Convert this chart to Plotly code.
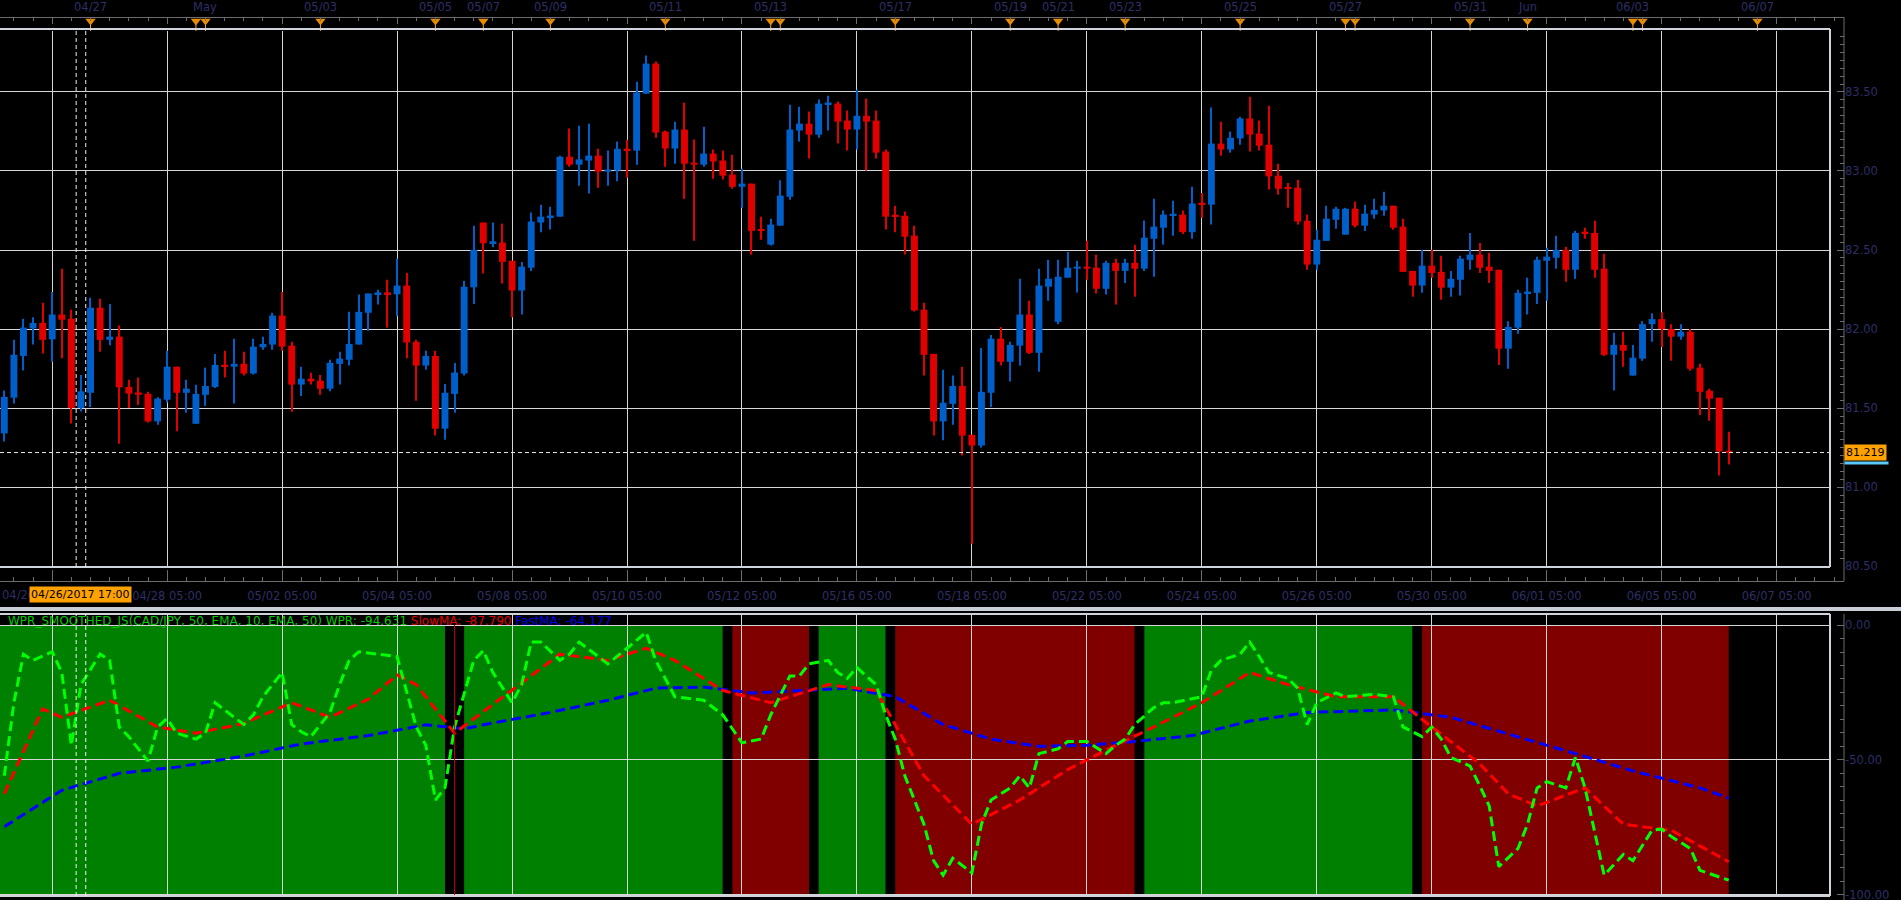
import plotly.graph_objects as go

# ---------------- data (4-hour CAD/JPY candles, index 0 = 04/25 09:00) ----------------
opens = [81.340, 81.566, 81.830, 82.004, 82.039, 81.935, 82.092, 82.065, 81.501, 81.597,
         82.135, 81.932, 81.952, 81.634, 81.599, 81.590, 81.416, 81.553, 81.762, 81.597,
         81.401, 81.584, 81.634, 81.773, 81.762, 81.780, 81.719, 81.885, 81.902, 82.085,
         81.895, 81.649, 81.686, 81.673, 81.623, 81.780, 81.806, 81.902, 82.103, 82.220,
         82.229, 82.220, 82.275, 81.919, 81.769, 81.830, 81.370, 81.590, 81.719, 82.264,
         82.674, 82.543, 82.547, 82.432, 82.244, 82.388, 82.674, 82.706, 82.711, 83.090,
         83.040, 83.066, 83.097, 82.996, 83.003, 83.140, 83.129, 83.489, 83.679, 83.249,
         83.142, 83.262, 83.053, 83.040, 83.110, 83.066, 82.977, 82.900, 82.920, 82.628,
         82.534, 82.654, 82.837, 83.256, 83.299, 83.230, 83.421, 83.426, 83.319, 83.262,
         83.349, 83.319, 83.123, 82.717, 82.717, 82.591, 82.122, 81.843, 81.416, 81.527,
         81.640, 81.331, 81.263, 81.597, 81.939, 81.793, 81.895, 82.092, 81.850, 82.268,
         82.046, 82.325, 82.382, 82.395, 82.388, 82.255, 82.419, 82.368, 82.419, 82.382,
         82.571, 82.641, 82.717, 82.724, 82.613, 82.794, 82.787, 83.173, 83.136, 83.206,
         83.332, 83.236, 83.166, 82.970, 82.894, 82.894, 82.685, 82.408, 82.558, 82.691,
         82.597, 82.761, 82.654, 82.724, 82.750, 82.780, 82.648, 82.368, 82.275, 82.401,
         82.362, 82.262, 82.312, 82.438, 82.471, 82.395, 82.375, 81.876, 82.009, 82.225,
         82.229, 82.432, 82.451, 82.501, 82.375, 82.608, 82.608, 82.382, 81.837, 81.900,
         81.706, 81.813, 82.031, 82.063, 82.000, 81.952, 81.983, 81.756, 81.610, 81.566,
         81.226]
highs = [81.612, 81.932, 82.065, 82.074, 82.166, 82.235, 82.382, 82.122, 81.710, 82.198,
         82.192, 82.159, 82.022, 81.680, 81.693, 81.603, 81.568, 81.863, 81.762, 81.680,
         81.647, 81.756, 81.843, 81.863, 81.939, 81.856, 81.939, 81.952, 82.103, 82.235,
         81.919, 81.762, 81.723, 81.710, 81.806, 81.856, 82.109, 82.218, 82.225, 82.249,
         82.312, 82.445, 82.355, 81.932, 81.863, 81.863, 81.653, 81.786, 82.305, 82.654,
         82.674, 82.674, 82.667, 82.432, 82.425, 82.737, 82.787, 82.774, 83.097, 83.269,
         83.286, 83.299, 83.140, 83.129, 83.186, 83.197, 83.565, 83.731, 83.692, 83.256,
         83.312, 83.432, 83.199, 83.280, 83.136, 83.129, 83.103, 83.014, 82.920, 82.711,
         82.698, 82.942, 83.419, 83.406, 83.376, 83.452, 83.476, 83.439, 83.382, 83.513,
         83.458, 83.382, 83.136, 82.780, 82.743, 82.654, 82.166, 81.843, 81.743, 81.706,
         81.762, 81.331, 81.880, 81.963, 82.013, 81.919, 82.318, 82.179, 82.382, 82.438,
         82.438, 82.488, 82.432, 82.558, 82.471, 82.432, 82.445, 82.445, 82.534, 82.687,
         82.824, 82.750, 82.811, 82.750, 82.900, 82.861, 83.402, 83.312, 83.249, 83.343,
         83.469, 83.319, 83.413, 83.046, 82.924, 82.944, 82.724, 82.628, 82.780, 82.774,
         82.767, 82.807, 82.787, 82.824, 82.868, 82.780, 82.698, 82.368, 82.501, 82.501,
         82.464, 82.368, 82.464, 82.608, 82.545, 82.482, 82.375, 82.050, 82.249, 82.325,
         82.458, 82.514, 82.591, 82.521, 82.621, 82.641, 82.685, 82.477, 81.976, 81.983,
         81.900, 82.050, 82.100, 82.107, 82.031, 82.031, 82.000, 81.780, 81.623, 81.566,
         81.350]
lows = [81.289, 81.529, 81.738, 81.902, 81.845, 81.793, 81.815, 81.403, 81.479, 81.507,
        81.856, 81.898, 81.274, 81.501, 81.520, 81.409, 81.394, 81.536, 81.353, 81.470,
        81.401, 81.514, 81.627, 81.693, 81.529, 81.706, 81.712, 81.869, 81.869, 81.863,
        81.477, 81.577, 81.649, 81.584, 81.606, 81.649, 81.769, 81.902, 81.989, 82.155,
        82.009, 82.085, 81.815, 81.547, 81.743, 81.326, 81.300, 81.470, 81.706, 82.159,
        82.351, 82.517, 82.288, 82.074, 82.092, 82.368, 82.613, 82.630, 82.711, 83.027,
        82.907, 82.857, 82.894, 82.907, 82.935, 82.957, 83.040, 83.489, 83.210, 83.027,
        83.046, 82.824, 82.558, 83.027, 82.951, 82.946, 82.887, 82.767, 82.471, 82.565,
        82.528, 82.654, 82.818, 83.186, 83.079, 83.210, 83.256, 83.173, 83.129, 83.136,
        83.003, 83.079, 82.630, 82.613, 82.471, 82.111, 81.706, 81.326, 81.296, 81.394,
        81.200, 80.642, 81.250, 81.507, 81.769, 81.669, 81.769, 81.843, 81.730, 82.179,
        82.031, 82.325, 82.231, 82.312, 82.225, 82.218, 82.155, 82.292, 82.205, 82.368,
        82.331, 82.534, 82.591, 82.602, 82.571, 82.704, 82.661, 83.097, 83.116, 83.166,
        83.123, 83.129, 82.883, 82.850, 82.767, 82.661, 82.375, 82.375, 82.558, 82.635,
        82.597, 82.643, 82.621, 82.698, 82.717, 82.628, 82.362, 82.205, 82.229, 82.325,
        82.185, 82.205, 82.212, 82.375, 82.355, 82.292, 81.773, 81.749, 81.970, 82.092,
        82.159, 82.179, 82.382, 82.299, 82.318, 82.571, 82.325, 81.830, 81.612, 81.762,
        81.706, 81.799, 81.919, 81.887, 81.799, 81.932, 81.736, 81.457, 81.420, 81.074,
        81.143]
closes = [81.571, 81.837, 82.009, 82.039, 81.932, 82.092, 82.059, 81.501, 81.606, 82.135,
          81.932, 81.952, 81.632, 81.592, 81.584, 81.416, 81.560, 81.762, 81.597, 81.623,
          81.590, 81.640, 81.773, 81.762, 81.780, 81.719, 81.889, 81.906, 82.085, 81.889,
          81.649, 81.686, 81.669, 81.623, 81.786, 81.813, 81.906, 82.109, 82.225, 82.229,
          82.220, 82.275, 81.915, 81.769, 81.830, 81.370, 81.597, 81.725, 82.268, 82.501,
          82.543, 82.547, 82.425, 82.244, 82.395, 82.680, 82.711, 82.717, 83.090, 83.040,
          83.073, 83.097, 82.996, 83.009, 83.140, 83.129, 83.496, 83.679, 83.243, 83.142,
          83.262, 83.046, 83.040, 83.110, 83.060, 82.970, 82.900, 82.920, 82.621, 82.621,
          82.661, 82.844, 83.262, 83.299, 83.230, 83.426, 83.426, 83.312, 83.262, 83.349,
          83.312, 83.116, 82.711, 82.711, 82.584, 82.118, 81.837, 81.416, 81.534, 81.640,
          81.326, 81.263, 81.603, 81.939, 81.793, 81.900, 82.092, 81.850, 82.275, 82.318,
          82.331, 82.388, 82.395, 82.382, 82.255, 82.419, 82.368, 82.419, 82.382, 82.578,
          82.648, 82.724, 82.724, 82.613, 82.794, 82.787, 83.173, 83.136, 83.210, 83.332,
          83.230, 83.160, 82.966, 82.887, 82.887, 82.680, 82.408, 82.565, 82.698, 82.761,
          82.761, 82.654, 82.730, 82.754, 82.780, 82.641, 82.362, 82.275, 82.401, 82.355,
          82.262, 82.318, 82.445, 82.471, 82.388, 82.368, 81.876, 82.013, 82.229, 82.235,
          82.438, 82.458, 82.501, 82.375, 82.608, 82.604, 82.375, 81.837, 81.900, 81.863,
          81.819, 82.031, 82.063, 82.000, 81.952, 81.983, 81.749, 81.603, 81.560, 81.226,
          81.219]
candle_idx = list(range(len(opens)))

# vertical grid / bottom axis labels (every two trading days, 05:00)
grid_idx = [5, 17, 29, 41, 53, 65, 77, 89, 101, 113, 125, 137, 149, 161, 173, 185]
grid_labels = ['04/26 05:00', '04/28 05:00', '05/02 05:00', '05/04 05:00', '05/08 05:00',
               '05/10 05:00', '05/12 05:00', '05/16 05:00', '05/18 05:00', '05/22 05:00',
               '05/24 05:00', '05/26 05:00', '05/30 05:00', '06/01 05:00', '06/05 05:00',
               '06/07 05:00']

# event markers on the top strip
event_idx = [9, 20, 21, 33, 45, 50, 57, 69, 80, 81, 93, 105, 110, 117, 129, 140, 141,
             153, 159, 170, 171, 183]
event_label_idx = [9, 21, 33, 45, 50, 57, 69, 80, 93, 105, 110, 117, 129, 140, 153, 159,
                   170, 183]
event_labels = ['04/27', 'May', '05/03', '05/05', '05/07', '05/09', '05/11', '05/13',
                '05/17', '05/19', '05/21', '05/23', '05/25', '05/27', '05/31', 'Jun',
                '06/03', '06/07']

cursor_index = 8
cursor_label = '04/26/2017 17:00'

# indicator panel: WPR_SMOOTHED_JS
wpr_idx = [0, 1, 2, 3, 5, 6, 7, 8, 10, 11, 12, 13, 15, 16, 17, 18, 20, 21, 22, 25, 26, 27,
           29, 30, 31, 32, 34, 35, 36, 37, 39, 41, 43, 44, 45, 46, 47, 49, 50, 51, 53, 54,
           55, 56, 58, 59, 60, 63, 65, 67, 68, 69, 70, 73, 75, 77, 79, 80, 82, 83, 84, 86,
           87, 88, 89, 91, 92, 93, 94, 96, 97, 98, 99, 101, 102, 103, 105, 106, 107, 108,
           110, 111, 113, 115, 116, 117, 118, 120, 121, 122, 125, 126, 127, 129, 130, 131,
           132, 134, 135, 136, 137, 139, 140, 143, 145, 146, 148, 149, 150, 151, 153, 154,
           155, 156, 158, 159, 160, 161, 163, 164, 165, 167, 169, 170, 172, 173, 174, 176,
           177, 180]
wpr_vals = [-55.9, -28.8, -10.8, -13.1, -9.9, -17.6, -44.6, -22.1, -10.8, -13.1, -37.8,
            -41.4, -50.5, -37.8, -34.7, -40.1, -42.3, -40.1, -28.8, -36.9, -33.3, -26.6,
            -17.6, -36.9, -39.6, -41.4, -32.4, -22.1, -13.1, -9.9, -10.8, -11.7, -37.8,
            -44.6, -64.9, -60.4, -37.8, -13.1, -9.5, -17.6, -28.8, -22.1, -6.3, -6.3, -13.1,
            -10.8, -6.3, -14.4, -8.6, -2.7, -13.1, -19.8, -26.6, -27.9, -33.3, -43.7, -42.3,
            -33.3, -18.9, -18.9, -14.4, -13.1, -17.6, -19.8, -15.8, -22.1, -33.3, -42.3,
            -55.9, -73.9, -87.4, -92.8, -86.5, -91.9, -73.9, -64.9, -60.4, -55.9, -60.4,
            -47.7, -45.9, -43.2, -43.2, -47.7, -44.6, -42.3, -36.9, -30.6, -28.8, -28.8,
            -26.6, -16.7, -13.1, -10.8, -6.3, -11.7, -17.6, -19.8, -23.4, -36.9, -28.8,
            -25.2, -26.6, -25.7, -26.6, -37.8, -41.4, -37.8, -42.3, -49.1, -52.3, -59.5,
            -67.1, -89.6, -82.9, -73.9, -60.4, -58.1, -60.4, -49.1, -60.4, -92.8, -85.1,
            -87.4, -76.1, -75.7, -78.4, -82.9, -91.0, -94.631]
slow_idx = [0, 4, 6, 11, 16, 20, 25, 30, 34, 38, 41, 43, 47, 53, 58, 63, 67, 70, 75, 80,
            86, 91, 96, 101, 106, 111, 116, 120, 125, 130, 134, 139, 145, 149, 154, 157,
            160, 165, 169, 174, 180]
slow_vals = [-62.6, -31.1, -34.2, -27.9, -37.8, -40.1, -36.5, -28.8, -34.2, -27.5, -18.5,
             -22.1, -40.1, -24.3, -10.8, -13.1, -8.6, -13.1, -24.3, -28.8, -22.1, -24.3,
             -55.9, -73.9, -64.9, -53.6, -44.6, -37.8, -28.8, -17.6, -22.1, -26.6, -26.6,
             -37.8, -51.4, -62.6, -67.1, -60.4, -73.9, -76.1, -87.790]
fast_idx = [0, 6, 12, 18, 25, 31, 38, 44, 48, 50, 57, 63, 68, 73, 78, 83, 88, 93, 98, 103,
            108, 113, 118, 124, 130, 136, 145, 151, 158, 164, 170, 177, 180]
fast_vals = [-74.8, -61.3, -55.0, -52.7, -48.6, -44.1, -41.0, -37.0, -38.5, -37.0, -32.4,
             -27.9, -23.4, -23.0, -25.2, -24.3, -23.4, -26.6, -36.9, -42.3, -45.0, -44.6,
             -43.2, -41.0, -35.6, -32.4, -31.5, -34.2, -41.4, -47.7, -54.1, -60.4, -64.177]

# background regimes of the indicator panel
regime_start = [-1, 46, 48, 75, 76, 84, 85, 92, 93, 118, 119, 147, 148]
regime_end = [46, 48, 75, 76, 84, 85, 92, 93, 118, 119, 147, 148, 180]
regime_state = ['up', 'flat', 'up', 'flat', 'down', 'flat', 'up', 'flat', 'down', 'flat',
                'up', 'flat', 'down']
signal_idx = [47]

# ---------------- styling ----------------
W, H = 1901, 900
PLOT_W = 1844
PX = 9.58
X0 = -0.45
XR = [X0, X0 + 1830 / PX]
XR_FULL = [X0, X0 + PLOT_W / PX]


def yp(py):
    return 1 - py / H


def xp(px):
    return px / PLOT_W


BLUE = '#005fc8'
RED = '#e00000'
GRID = '#d6d6d6'
AX = '#6c6c6c'
NAVY = '#2d2f66'
FRAME = '#cfd3dc'
ORANGE = '#ffa200'
FONT = 'DejaVu Sans'
state_color = {'up': '#008000', 'down': '#800000', 'flat': '#000000'}

fig = go.Figure()

colors = [BLUE if c >= o else RED for o, c in zip(opens, closes)]
fig.add_trace(go.Bar(
    x=candle_idx, y=[h - l for h, l in zip(highs, lows)], base=lows, width=0.12,
    marker=dict(color=colors, line=dict(width=0)), xaxis='x', yaxis='y',
    hoverinfo='skip', showlegend=False))
fig.add_trace(go.Bar(
    x=candle_idx, y=[max(abs(c - o), 0.012) for o, c in zip(opens, closes)],
    base=[min(o, c) for o, c in zip(opens, closes)], width=0.72,
    marker=dict(color=colors, line=dict(width=0)), xaxis='x', yaxis='y',
    hoverinfo='skip', showlegend=False))

dash = '10px,5px'
fig.add_trace(go.Scatter(x=fast_idx, y=fast_vals, mode='lines', xaxis='x2', yaxis='y2',
                         line=dict(color='#0000ff', width=3, dash=dash),
                         hoverinfo='skip', showlegend=False))
fig.add_trace(go.Scatter(x=slow_idx, y=slow_vals, mode='lines', xaxis='x2', yaxis='y2',
                         line=dict(color='#ff0000', width=3, dash=dash),
                         hoverinfo='skip', showlegend=False))
fig.add_trace(go.Scatter(x=wpr_idx, y=wpr_vals, mode='lines', xaxis='x2', yaxis='y2',
                         line=dict(color='#00ff00', width=3, dash=dash),
                         hoverinfo='skip', showlegend=False))

# event markers in top strip
fig.add_trace(go.Scatter(x=event_idx, y=[0.18] * len(event_idx), mode='markers',
                         xaxis='x4', yaxis='y3',
                         marker=dict(symbol='line-ns', size=9,
                                     line=dict(color=ORANGE, width=1)),
                         hoverinfo='skip', showlegend=False))
fig.add_trace(go.Scatter(x=event_idx, y=[0.72] * len(event_idx), mode='markers',
                         xaxis='x4', yaxis='y3',
                         marker=dict(symbol='triangle-down', size=9, color='#e88c00',
                                     line=dict(width=0)),
                         hoverinfo='skip', showlegend=False))
# dummy trace so the bottom time axis is rendered
fig.add_trace(go.Scatter(x=[None], y=[None], xaxis='x3', yaxis='y4',
                         hoverinfo='skip', showlegend=False))

shapes = []
for s, e, st in zip(regime_start, regime_end, regime_state):
    shapes.append(dict(type='rect', xref='x2', yref='y2', x0=s, x1=e, y0=-100.5, y1=0,
                       fillcolor=state_color[st], line=dict(width=0), layer='below'))
for k in signal_idx:
    shapes.append(dict(type='line', xref='x2', yref='y2', x0=k, x1=k, y0=-100.5, y1=0,
                       line=dict(color='#c00000', width=1)))

# frames
for xr, yr in (('x domain', 'y domain'), ('x2 domain', 'y2 domain')):
    shapes.append(dict(type='line', xref=xr, yref=yr, x0=0, x1=1, y0=1, y1=1,
                       line=dict(color=FRAME, width=2)))
    shapes.append(dict(type='line', xref=xr, yref=yr, x0=0, x1=1, y0=0, y1=0,
                       line=dict(color=FRAME, width=2)))
    shapes.append(dict(type='line', xref=xr, yref=yr, x0=1, x1=1, y0=0, y1=1,
                       line=dict(color=FRAME, width=2)))
# right axis lines
shapes.append(dict(type='line', xref='paper', yref='paper', x0=1, x1=1,
                   y0=yp(581), y1=yp(17), line=dict(color=AX, width=1)))
shapes.append(dict(type='line', xref='paper', yref='paper', x0=1, x1=1,
                   y0=0, y1=yp(614), line=dict(color=AX, width=1)))
# separator between panels
shapes.append(dict(type='rect', xref='paper', yref='paper', x0=0, x1=W / PLOT_W,
                   y0=yp(611), y1=yp(607), fillcolor='#c9cdd6', line=dict(width=0)))
# current price line
shapes.append(dict(type='line', xref='x domain', yref='y', x0=0, x1=1,
                   y0=closes[-1], y1=closes[-1],
                   line=dict(color='#e8e8e8', width=1, dash='4px,3px')))
# cursor lines
for off in (-0.5, 0.5):
    for xr, yr in (('x', 'y domain'), ('x2', 'y2 domain')):
        shapes.append(dict(type='line', xref=xr, yref=yr, x0=cursor_index + off,
                           x1=cursor_index + off, y0=0, y1=1,
                           line=dict(color='#f0f0f0', width=1, dash='4px,3px')))

LBL = 11.5
annotations = []
for k, t in zip(event_label_idx, event_labels):
    annotations.append(dict(x=k, xref='x', y=yp(7), yref='paper', yanchor='middle',
                            text=t, showarrow=False,
                            font=dict(color=NAVY, size=LBL, family=FONT)))
# first time label sits at the left edge, partly hidden by the cursor box
annotations.append(dict(x=0, xref='paper', xanchor='left', y=yp(595), yref='paper',
                        yanchor='middle', text=grid_labels[0], showarrow=False,
                        font=dict(color=NAVY, size=LBL, family=FONT)))
annotations.append(dict(x=cursor_index, xref='x', y=yp(594), yref='paper',
                        yanchor='middle', text=cursor_label, showarrow=False,
                        bgcolor=ORANGE, borderpad=1,
                        font=dict(color='#000000', size=11, family=FONT)))
annotations.append(dict(x=1, xref='paper', xanchor='left', y=closes[-1], yref='y',
                        yanchor='middle', text='%.3f' % closes[-1], showarrow=False,
                        bgcolor=ORANGE, borderpad=1,
                        font=dict(color='#000000', size=11, family=FONT)))
annotations.append(dict(x=1, xref='paper', xanchor='left', y=closes[-1], yref='y',
                        yanchor='top', yshift=-8, text=' ', showarrow=False,
                        bgcolor='#5ac8fa', width=43, height=2, borderpad=0,
                        font=dict(size=1)))
legend_text = ('<span style="color:#00cc00">WPR_SMOOTHED_JS(CAD/JPY, 50, EMA, 10, EMA, 50) '
               'WPR: %.3f</span> <span style="color:#e00000">SlowMA: %.3f</span> '
               '<span style="color:#0000e0">FastMA: %.3f</span>'
               % (wpr_vals[-1], slow_vals[-1], fast_vals[-1]))
annotations.append(dict(x=xp(6), xref='paper', xanchor='left', y=yp(621), yref='paper',
                        yanchor='middle', text=legend_text, showarrow=False,
                        font=dict(size=12, family=FONT)))

tickfont = dict(color=NAVY, size=LBL, family=FONT)
fig.update_layout(
    width=W, height=H, autosize=False,
    margin=dict(l=0, r=W - PLOT_W, t=0, b=0, pad=0, autoexpand=False),
    paper_bgcolor='#000000', plot_bgcolor='#000000',
    barmode='overlay', showlegend=False, hovermode=False,
    font=dict(family=FONT, size=11, color=NAVY),
    xaxis=dict(domain=[0, xp(1830)], range=XR, anchor='y', tickmode='array',
               tickvals=grid_idx, showticklabels=False, ticks='', showgrid=True,
               gridcolor=GRID, gridwidth=1, zeroline=False, showline=False,
               automargin=False),
    yaxis=dict(domain=[yp(567), yp(29)], range=[80.495, 83.898], anchor='free', position=1,
               side='right', tick0=80.5, dtick=0.5, tickformat='.2f', ticks='inside',
               ticklen=7, tickcolor=AX, showline=False, showgrid=True, gridcolor=GRID,
               gridwidth=1, zeroline=False, tickfont=tickfont, automargin=False,
               ticklabeloverflow='allow',
               minor=dict(dtick=0.05, tick0=80.5, ticklen=4, ticks='inside',
                          tickcolor=AX, showgrid=False)),
    xaxis2=dict(domain=[0, xp(1830)], range=XR, anchor='y2', tickmode='array',
                tickvals=grid_idx, showticklabels=False, ticks='', showgrid=True,
                gridcolor=GRID, gridwidth=1, zeroline=False, showline=False,
                automargin=False),
    yaxis2=dict(domain=[yp(896), yp(614)], range=[-100.5, 4.1], anchor='free', position=1,
                side='right', tickmode='array', tickvals=[0, -50, -100],
                ticktext=['0.00', '-50.00', '-100.00'], ticks='inside', ticklen=7,
                tickcolor=AX, showline=False, showgrid=True, gridcolor=GRID, gridwidth=1,
                zeroline=False, tickfont=tickfont, automargin=False,
                ticklabeloverflow='allow',
                minor=dict(tickmode='linear', tick0=0, dtick=5, ticklen=4,
                           ticks='inside', tickcolor=AX, showgrid=False)),
    xaxis3=dict(domain=[0, 1], range=XR_FULL, anchor='free', position=yp(581),
                side='bottom', tickmode='array', tickvals=grid_idx,
                ticktext=[''] + grid_labels[1:],
                ticks='inside', ticklen=11, tickcolor=AX, showline=True, linecolor=AX,
                linewidth=1, showgrid=False, zeroline=False, tickfont=tickfont,
                ticklabelstandoff=4, automargin=False,
                minor=dict(tickmode='linear', tick0=5, dtick=2, ticklen=4,
                           ticks='inside', tickcolor=AX, showgrid=False)),
    yaxis4=dict(domain=[0, 0.001], anchor='x3', visible=False, range=[0, 1]),
    xaxis4=dict(domain=[0, 1], range=XR_FULL, anchor='free', position=yp(17), side='top',
                tickmode='array', tickvals=grid_idx, showticklabels=False, ticks='inside',
                ticklen=6, tickcolor=AX, showline=True, linecolor=AX, linewidth=1,
                showgrid=False, zeroline=False, automargin=False,
                minor=dict(tickmode='linear', tick0=5, dtick=2, ticklen=3,
                           ticks='inside', tickcolor=AX, showgrid=False)),
    yaxis3=dict(domain=[yp(31), yp(17)], anchor='x4', visible=False, range=[0, 1]),
    shapes=shapes,
    annotations=annotations,
)

fig.write_html('out.html')
